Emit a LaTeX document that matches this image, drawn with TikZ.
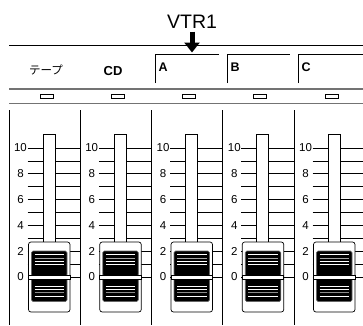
\documentclass[tikz,border=0pt]{standalone}
\usepackage{fontspec}
\setmainfont{Liberation Sans}
\newfontfamily\jp{Noto Sans CJK JP}
\usetikzlibrary{arrows.meta}
\begin{document}
\begin{tikzpicture}[x=1pt,y=-1pt,
  rule/.style={line width=0.9pt},
  band/.style={draw=black!55, line width=1.7pt},
  tick/.style={line width=0.7pt},
  scalenum/.style={font=\fontsize{11.5}{13}\selectfont, inner sep=0pt},
  tablabel/.style={font=\fontsize{12.5}{14}\selectfont\bfseries, inner sep=0pt, anchor=west},
  ledbox/.style={draw, line width=0.8pt, fill=white},
  knobbody/.style={draw, line width=0.7pt, fill=white, rounded corners=2.5pt},
  knobblock/.style={draw=black!60, line width=0.6pt, fill=black, rounded corners=1.5pt},
  slotbox/.style={draw, line width=0.8pt, fill=white}]
\useasboundingbox (0,0) rectangle (363,325);
\fill[white] (0,0) rectangle (363,325);
% title and arrow
\node[font=\fontsize{19.5}{22}\selectfont, inner sep=0pt] (vtr) at (192,21.5) {VTR1};
\coordinate (arrowend) at (192,52.5);
\draw[line width=5pt, -{Triangle[width=15pt,length=10pt]}] (192,31.5) -- (arrowend);
% top rule
\draw[rule] (9,45) -- (363,45);
% tabs
\draw[rule] (155,83) -- (155,54) -- (219,54);
\draw[rule] (227,83) -- (227,54) -- (290,54);
\draw[rule] (298,83) -- (298,54) -- (363,54);
\node[tablabel] (la) at (158.5,67.5) {A};
\node[tablabel] (lb) at (230.5,67.5) {B};
\node[tablabel] (lc) at (301.5,67.5) {C};
\node[font=\jp\fontsize{11.5}{13}\selectfont, inner sep=0pt] (tape) at (46,70) {テープ};
\node[font=\fontsize{13}{15}\selectfont\bfseries, inner sep=0pt] (cd) at (113,71) {CD};
% band
\draw[band] (9,89) -- (363,89);
\draw[band] (9,103.5) -- (363,103.5);
% columns
\foreach \k in {0,...,4} {
  \pgfmathsetmacro\d{9+71.25*\k}
  \pgfmathsetmacro\c{\d+40}
  \pgfmathsetmacro\n{min(\d+71.25,364)}
  \draw[ledbox] (\c-9,94) rectangle (\c+4,98);
  \draw[line width=0.9pt] (\d,110) -- (\d,325);
  \foreach \i in {0,...,10} {
    \pgfmathsetmacro\yy{148+12.9*\i}
    \draw[tick] (\d+18.5,\yy) -- (\c-6,\yy);
    \draw[tick] (\c+6,\yy) -- (\n,\yy);
  }
  \foreach \i/\v in {0/10,2/8,4/6,6/4,8/2,10/0} {
    \pgfmathsetmacro\yy{148+12.9*\i}
    \node[scalenum, fill=white, inner xsep=0.5pt] (num\k-\v) at (\d+11.5,\yy) {\v};
  }
  \draw[slotbox] (\c-6,134) rectangle (\c+6,243);
  % knob
  \draw[knobbody] (\c-20.5,242) rectangle (\c+21,312);
  \draw[knobblock] (\c-17.5,251) rectangle (\c+18,276);
  \draw[knobblock] (\c-17.5,278.5) rectangle (\c+18,301.5);
  \foreach \s/\col in {254.8/white,258.2/black!35,261.4/white,264.8/white} {
    \draw[\col, line width=0.8pt] (\c-14.5,\s) -- (\c+15,\s);
  }
  \foreach \s/\col in {286/white,289.3/white,292.7/black!45,296/white} {
    \draw[\col, line width=0.9pt] (\c-14.5,\s) -- (\c+15,\s);
  }
  \draw[line width=0.6pt, fill=white] (\c-20.5,275.5) rectangle (\c+21,278.8);
}
\end{tikzpicture}
\end{document}
